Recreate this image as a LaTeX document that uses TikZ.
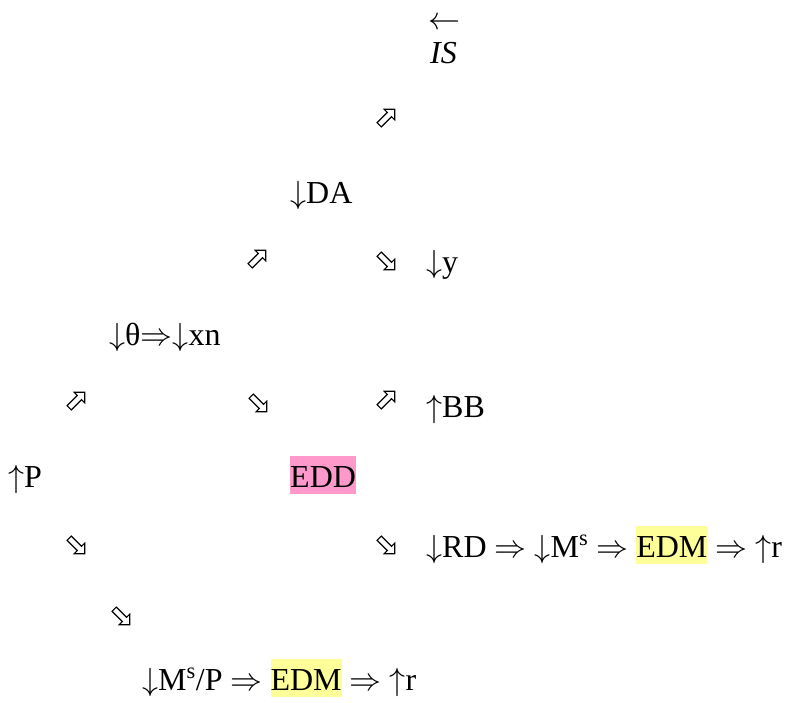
\documentclass[tikz,border=0pt]{standalone}
\usepackage{fix-cm}
\usepackage{fontspec}
\setmainfont{Liberation Serif}
\definecolor{pinkhl}{HTML}{FF99CC}
\definecolor{yellowhl}{HTML}{FFFF99}
\newcommand\hlbox[2]{{\setlength\fboxsep{0pt}\colorbox{#1}{\rule[-7pt]{0pt}{38pt}#2}}}
\newcommand\RA{\(\Rightarrow\)}
\newcommand\DN{\(\downarrow\)}
\newcommand\UP{\(\uparrow\)}
\tikzset{
  txt/.style={anchor=base west, inner sep=0pt, font=\fontsize{32}{38}\selectfont},
  hollow/.style={draw=black, fill=white, line width=1.1pt, line join=miter}
}
% hollow block arrow: #1 = name of centre coordinate, #2 = angle
\newcommand\harrow[2]{%
  \draw[hollow, shift={(#1)}, rotate=#2]
    (-11,-3) -- (3.5,-3) -- (3.5,-7.5) -- (11,0) -- (3.5,7.5) -- (3.5,3) -- (-11,3) -- cycle;}
\begin{document}
\begin{tikzpicture}[x=1pt,y=-1pt]
\useasboundingbox (0,0) rectangle (793,702);
% texts
\node[inner sep=0pt, anchor=base, font=\fontsize{32}{38}\selectfont] (larr) at (444,29) {\(\leftarrow\)};
\node[txt] (IS) at (430,63) {\textit{IS}};
\node[txt] (DA) at (290,203) {\DN DA};
\node[txt] (y) at (426,272) {\DN y};
\node[txt] (theta) at (109,345) {\DN θ\RA\DN xn};
\node[txt] (BB) at (426,417) {\UP BB};
\node[txt] (P) at (8,487) {\UP P};
\node[txt] (EDD) at (290,487) {\hlbox{pinkhl}{EDD}};
\node[txt] (RD) at (426,557) {\DN RD \RA{} \DN M\textsuperscript{s} \RA{} \hlbox{yellowhl}{EDM} \RA{} \UP r};
\node[txt] (MP) at (142,690) {\DN M\textsuperscript{s}/P \RA{} \hlbox{yellowhl}{EDM} \RA{} \UP r};
% hollow arrows
\coordinate (a1) at (387,117);
\coordinate (a2) at (258,258);
\coordinate (a3) at (387,262);
\coordinate (a4) at (77,400);
\coordinate (a5) at (259,404);
\coordinate (a6) at (387,399);
\coordinate (a7) at (77,546);
\coordinate (a8) at (387,546);
\coordinate (a9) at (122,617);
\harrow{a1}{45}
\harrow{a2}{45}
\harrow{a3}{-45}
\harrow{a4}{45}
\harrow{a5}{-45}
\harrow{a6}{45}
\harrow{a7}{-45}
\harrow{a8}{-45}
\harrow{a9}{-45}
\end{tikzpicture}
\end{document}
